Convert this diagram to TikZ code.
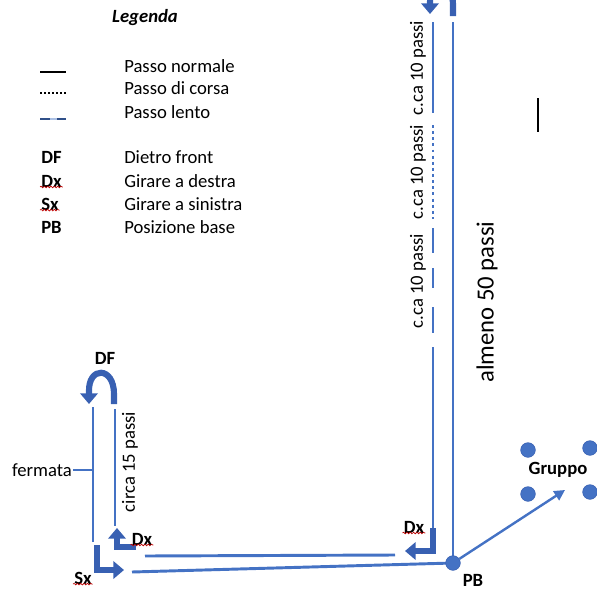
\documentclass[tikz,border=0pt]{standalone}
\usepackage{fontspec}
\setmainfont{Carlito}
\usetikzlibrary{arrows.meta,decorations.pathmorphing}
\definecolor{lineblue}{RGB}{68,114,196}
\definecolor{arrowblue}{RGB}{56,96,178}
\tikzset{
	passo/.style={lineblue,line width=2.2pt},
	svolta/.style={arrowblue,line width=4.6pt,-{Triangle[width=13pt,length=8pt]}},
	sigla/.style={font=\bfseries\fontsize{14}{16}\selectfont,inner sep=0.75pt},
	testo/.style={font=\fontsize{14}{16}\selectfont,inner sep=0.75pt},
	squiggle/.style={red!75!black,line width=0.5pt,decorate,decoration={snake,amplitude=0.6pt,segment length=2.5pt}},
	punto/.style={circle,fill=lineblue,draw=arrowblue,minimum size=11pt,inner sep=0pt},
}
\begin{document}
\begin{tikzpicture}[x=0.75pt,y=0.75pt,yscale=-1,xscale=1]
	\useasboundingbox (0,0) rectangle (597,590);
	\clip (0,0) rectangle (597,590);
	
	% Legend
	\node[sigla,font=\bfseries\itshape\fontsize{14}{16}\selectfont] (legtitolo) at (145,18) {Legenda};
	\node[testo,anchor=west] (legnormale) at (123,66) {Passo normale};
	\node[testo,anchor=west] (legcorsa) at (123,88) {Passo di corsa};
	\node[testo,anchor=west] (leglento) at (123,112) {Passo lento};
	\node[sigla,anchor=west] (legdf) at (40,157) {DF};
	\node[sigla,anchor=west] (legdx) at (40,181) {Dx};
	\node[sigla,anchor=west] (legsx) at (40,204) {Sx};
	\node[sigla,anchor=west] (legpb) at (40,227) {PB};
	\node[testo,anchor=west] (legdietro) at (123,157) {Dietro front};
	\node[testo,anchor=west] (legdestra) at (123,181) {Girare a destra};
	\node[testo,anchor=west] (legsinistra) at (123,204) {Girare a sinistra};
	\node[testo,anchor=west] (legbase) at (123,227) {Posizione base};
	%Straight Lines
	\draw[line width=1pt] (40,72) -- (66,72);
	\draw[line width=1.6pt,dash pattern=on 1.6pt off 1.4pt] (40,93) -- (66,93);
	\draw[lineblue!70!black,line width=2pt] (40,119) -- (66,119);
	\draw[lineblue!45,line width=1pt] (50,119) -- (57,119);
	\draw[squiggle] ([yshift=-1pt]legdx.south west) -- ([yshift=-1pt]legdx.south east);
	\draw[squiggle] ([yshift=-1pt]legsx.south west) -- ([yshift=-1pt]legsx.south east);
	
	%Stray mark
	\draw[line width=0.8pt] (538,98) -- (538,132);
	
	% Right side
	\coordinate (pb) at (453,563);
	\draw[passo] (pb) -- (453,22);
	\draw[passo] (433,22) -- (433,113);
	\draw[passo,dash pattern=on 2.2pt off 2.4pt] (433,125) -- (433,219);
	\foreach \a/\b in {228/253,268/288,307/333,347/528}
		\draw[passo] (433,\a) -- (433,\b);
	\draw[svolta] (453,16) -- (453,4) .. controls (453,-16) and (430,-16) .. (430,2) -- (430,14);
	\draw[svolta] (433,528) -- (433,551) -- (405,551);
	\node[testo,rotate=90] (cca1) at (418,68) {c.ca 10 passi};
	\node[testo,rotate=90] (cca2) at (418,172) {c.ca 10 passi};
	\node[testo,rotate=90] (cca3) at (418,281) {c.ca 10 passi};
	\node[testo,rotate=90,font=\fontsize{18.5}{20}\selectfont] (almeno) at (487,302) {almeno 50 passi};
	\node[sigla] (dxb) at (414,527) {Dx};
	\draw[squiggle] ([yshift=-1pt]dxb.south west) -- ([yshift=-1pt]dxb.south east);
	
	% Bottom lines
	\draw[passo] (395,555) -- (145,556);
	\draw[passo] (pb) -- (132,572);
	\node[punto] (pbdot) at (pb) {};
	\node[sigla] (pblabel) at (473,580) {PB};
	
	% Gruppo
	\node[punto] (g1) at (528,450) {};
	\node[punto] (g2) at (590,448) {};
	\node[punto] (g3) at (528,494) {};
	\node[punto] (g4) at (590,492) {};
	\node[sigla] (gruppo) at (558,470) {Gruppo};
	\coordinate (gfreccia) at (565,490);
	\draw[lineblue,line width=1.8pt,-{Triangle[width=8pt,length=8pt]}] (pbdot) -- (gfreccia);
	
	% Left side
	\draw[passo] (93,407) -- (93,542);
	\draw[passo] (115,409) -- (115,526);
	\draw[svolta] (114,404) -- (114,394) .. controls (114,366) and (88,366) .. (89,392) -- (89,404);
	\node[sigla] (df) at (105,358) {DF};
	\node[testo,rotate=90] (circa) at (130,462) {circa 15 passi};
	\node[testo,anchor=east] (fermata) at (73,470) {fermata};
	\coordinate (fermtick) at (93,470);
	\draw[lineblue,line width=1.6pt] (fermata) -- (fermtick);
	\draw[svolta] (136,547) -- (117,547) -- (117,528);
	\draw[svolta] (97,545) -- (97,570) -- (124,570);
	\node[sigla] (dxa) at (142,539) {Dx};
	\draw[squiggle] ([yshift=-1pt]dxa.south west) -- ([yshift=-1pt]dxa.south east);
	\node[sigla] (sx) at (83,578) {Sx};
	\draw[squiggle] ([yshift=-1pt]sx.south west) -- ([yshift=-1pt]sx.south east);
	
\end{tikzpicture}
\end{document}
